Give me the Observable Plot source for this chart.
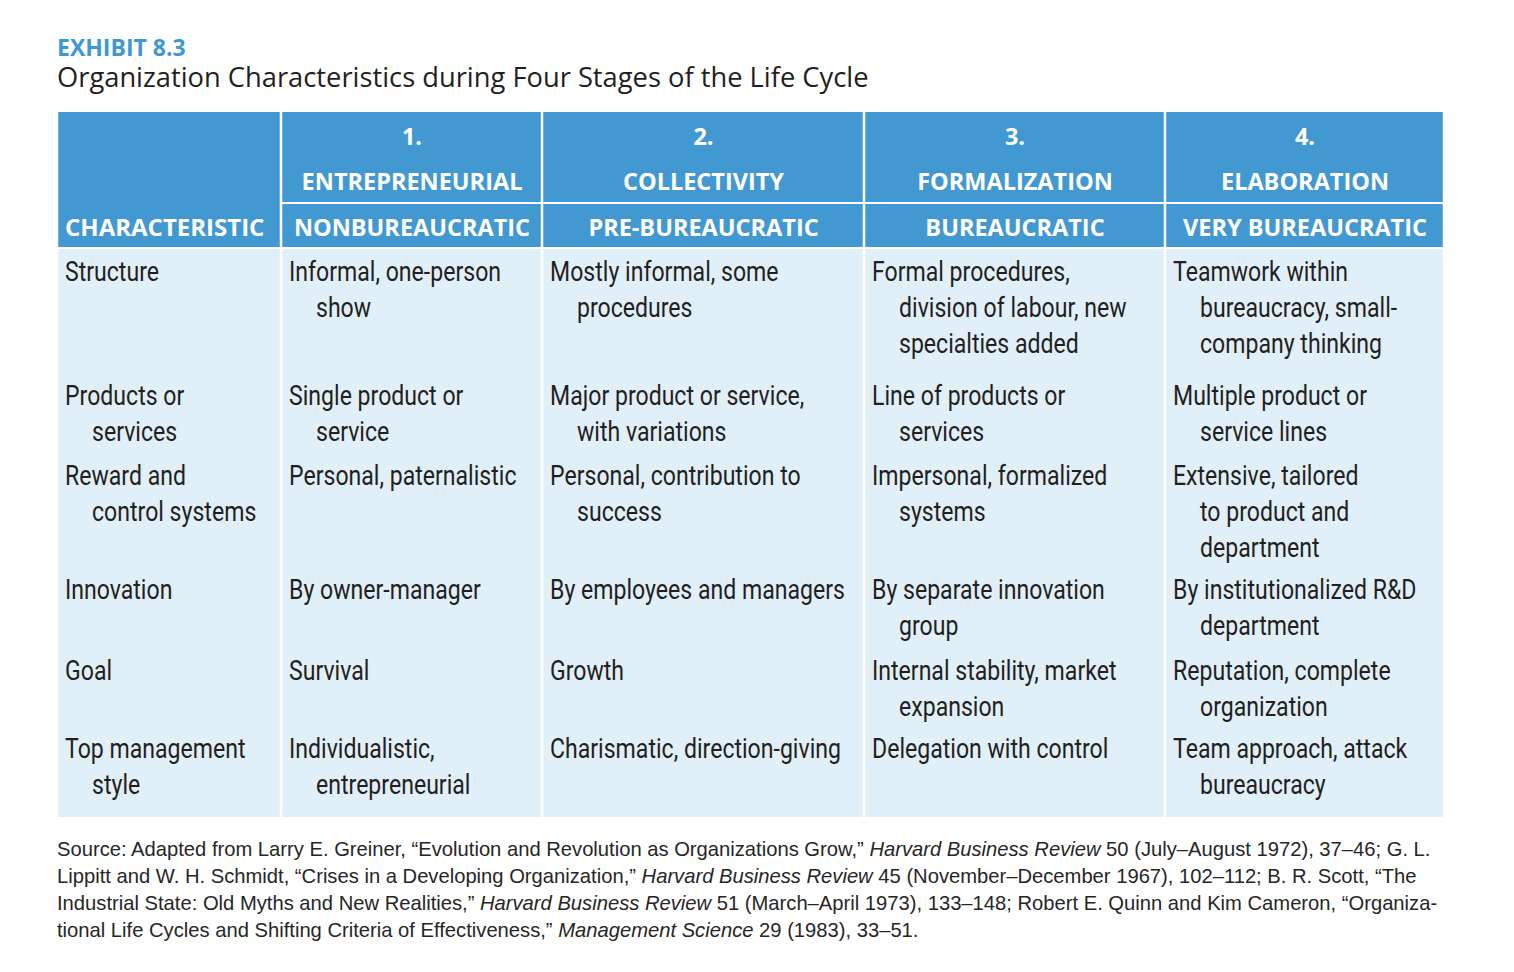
<!DOCTYPE html>
<html>
<head>
<meta charset="utf-8">
<script src="https://cdn.jsdelivr.net/npm/d3@7"></script>
<script src="https://cdn.jsdelivr.net/npm/@observablehq/plot@0.6"></script>
<style>
  html, body { margin: 0; padding: 0; background: #fff; }
  body { width: 1514px; height: 972px; position: relative; overflow: hidden; }
  #exhibit { position: absolute; left: 57px; top: 36px; font: 700 23px "Open Sans", sans-serif; line-height: 23px; color: #3d98d4; white-space: nowrap; }
  #title { position: absolute; left: 57px; top: 63px; font: 400 27.3px "Open Sans", sans-serif; line-height: 27.3px; color: #231f20; white-space: nowrap; }
  #chart { position: absolute; left: 0; top: 100px; }
  #caption { position: absolute; left: 57px; top: 836px; font: 400 20.2px "Liberation Sans", sans-serif; line-height: 27px; color: #262626; white-space: nowrap; }
</style>
</head>
<body>
<div id="exhibit">EXHIBIT 8.3</div>
<div id="title">Organization Characteristics during Four Stages of the Life Cycle</div>
<div id="chart"></div>
<div id="caption">Source: Adapted from Larry E. Greiner, “Evolution and Revolution as Organizations Grow,” <i>Harvard Business Review</i> 50 (July–August 1972), 37–46; G. L.<br>Lippitt and W. H. Schmidt, “Crises in a Developing Organization,” <i>Harvard Business Review</i> 45 (November–December 1967), 102–112; B. R. Scott, “The<br>Industrial State: Old Myths and New Realities,” <i>Harvard Business Review</i> 51 (March–April 1973), 133–148; Robert E. Quinn and Kim Cameron, “Organiza-<br>tional Life Cycles and Shifting Criteria of Effectiveness,” <i>Management Science</i> 29 (1983), 33–51.</div>
<script>
// ---- Data (table content) ----
const headerCharacteristic = "CHARACTERISTIC";
const stageNumbers = ["1.", "2.", "3.", "4."];
const stageNames = ["ENTREPRENEURIAL", "COLLECTIVITY", "FORMALIZATION", "ELABORATION"];
const stageTypes = ["NONBUREAUCRATIC", "PRE-BUREAUCRATIC", "BUREAUCRATIC", "VERY BUREAUCRATIC"];
const characteristics = [
  "Structure",
  "Products or\nservices",
  "Reward and\ncontrol systems",
  "Innovation",
  "Goal",
  "Top management\nstyle"
];
const entrepreneurial = [
  "Informal, one-person\nshow",
  "Single product or\nservice",
  "Personal, paternalistic",
  "By owner-manager",
  "Survival",
  "Individualistic,\nentrepreneurial"
];
const collectivity = [
  "Mostly informal, some\nprocedures",
  "Major product or service,\nwith variations",
  "Personal, contribution to\nsuccess",
  "By employees and managers",
  "Growth",
  "Charismatic, direction-giving"
];
const formalization = [
  "Formal procedures,\ndivision of labour, new\nspecialties added",
  "Line of products or\nservices",
  "Impersonal, formalized\nsystems",
  "By separate innovation\ngroup",
  "Internal stability, market\nexpansion",
  "Delegation with control"
];
const elaboration = [
  "Teamwork within\nbureaucracy, small-\ncompany thinking",
  "Multiple product or\nservice lines",
  "Extensive, tailored\nto product and\ndepartment",
  "By institutionalized R&D\ndepartment",
  "Reputation, complete\norganization",
  "Team approach, attack\nbureaucracy"
];

// ---- Layout (table geometry in table units) ----
const colWidths = [224, 261, 322, 301, 279];
const headHeights = [92, 45];
const rowHeights = [124, 80, 114, 81, 78, 92];
const padX = 7.5, indent = 27, lineStep = 36, firstBaseline = 32;
const condense = 0.855;

const colEdges = [0];
colWidths.forEach(w => colEdges.push(colEdges[colEdges.length - 1] + w));
const totalW = d3.sum(colWidths);
const headH = d3.sum(headHeights);
const rowEdges = [headH];
rowHeights.forEach(h => rowEdges.push(rowEdges[rowEdges.length - 1] + h));
const totalH = rowEdges[rowEdges.length - 1];

const columns = [characteristics, entrepreneurial, collectivity, formalization, elaboration];

// cell backgrounds
const headerCells = [{x1: colEdges[0], x2: colEdges[1], y1: 0, y2: headH}];
for (let c = 1; c < 5; c++) {
  headerCells.push({x1: colEdges[c], x2: colEdges[c + 1], y1: 0, y2: headHeights[0]});
  headerCells.push({x1: colEdges[c], x2: colEdges[c + 1], y1: headHeights[0], y2: headH});
}
const bodyCells = columns.map((_, c) => ({x1: colEdges[c], x2: colEdges[c + 1], y1: headH, y2: totalH}));

// header texts
const headerTexts = [];
stageNumbers.forEach((t, i) => headerTexts.push({x: (colEdges[i + 1] + colEdges[i + 2]) / 2, y: 33, text: t}));
stageNames.forEach((t, i) => headerTexts.push({x: (colEdges[i + 1] + colEdges[i + 2]) / 2, y: 78, text: t}));
stageTypes.forEach((t, i) => headerTexts.push({x: (colEdges[i + 1] + colEdges[i + 2]) / 2, y: 124.5, text: t}));

// body texts, line by line with hanging indent
const bodyLines = [];
columns.forEach((col, c) => {
  col.forEach((cell, r) => {
    cell.split("\n").forEach((line, i) => {
      bodyLines.push({
        x: colEdges[c] + padX + (i > 0 ? indent : 0),
        y: rowEdges[r] + firstBaseline + i * lineStep,
        text: line
      });
    });
  });
});

const headerBlue = "#4299d2";
const bodyBlue = "#e1eff9";
const headFont = "'Open Sans', 'Noto Sans', sans-serif";
const bodyFont = "Roboto, 'Noto Sans', sans-serif";

const chart = Plot.plot({
  width: 1514,
  height: 730,
  marginLeft: 57,
  marginRight: 70,
  marginTop: 11,
  marginBottom: 13,
  x: {domain: [0, totalW], axis: null},
  y: {domain: [0, totalH], reverse: true, axis: null},
  style: {background: "#fff"},
  marks: [
    Plot.rect(headerCells, {x1: "x1", x2: "x2", y1: "y1", y2: "y2", fill: headerBlue, insetLeft: 1.25, insetRight: 1.25, insetTop: 1, insetBottom: 1}),
    Plot.rect(bodyCells, {x1: "x1", x2: "x2", y1: "y1", y2: "y2", fill: bodyBlue, insetLeft: 1.25, insetRight: 1.25, insetTop: 1, insetBottom: 0}),
    Plot.text(headerTexts, {x: "x", y: "y", text: "text", textAnchor: "middle", lineAnchor: "bottom", fill: "white", fontSize: 23.5, fontWeight: 700, fontFamily: headFont}),
    Plot.text([{x: padX, y: 124.5, text: headerCharacteristic}], {x: "x", y: "y", text: "text", textAnchor: "start", lineAnchor: "bottom", fill: "white", fontSize: 24, fontWeight: 700, fontFamily: headFont}),
    Plot.text(bodyLines, {x: "x", y: "y", text: "text", textAnchor: "start", lineAnchor: "bottom", fill: "#231f20", fontSize: 27, fontFamily: bodyFont, className: "bodytext"})
  ]
});
// condensed body typeface: narrow each body text horizontally about its anchor
chart.querySelectorAll(".bodytext text").forEach(t => {
  const tr = t.getAttribute("transform") || "";
  const x = +t.getAttribute("x") || 0, y = +t.getAttribute("y") || 0;
  t.setAttribute("transform", `${tr} translate(${x},${y}) scale(${condense},1) translate(${-x},${-y})`);
});
document.getElementById("chart").appendChild(chart);
</script>
</body>
</html>
